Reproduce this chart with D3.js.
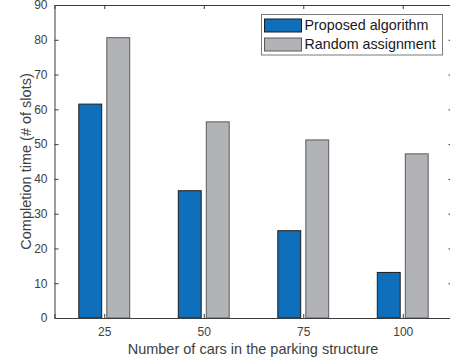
<!DOCTYPE html>
<html>
<head>
<meta charset="utf-8">
<script src="https://cdn.jsdelivr.net/npm/d3@7"></script>
<style>
  html, body { margin: 0; padding: 0; background: #fff; }
  svg { display: block; font-family: "Liberation Sans", Arial, sans-serif; }
</style>
</head>
<body>
<svg id="chart" width="450" height="364"></svg>
<script>
// Completion time for each fleet size, per assignment strategy
const carCounts = ["25", "50", "75", "100"];
const proposed = [61.5, 36.6, 25.1, 13.1];
const randomAssign = [80.6, 56.4, 51.2, 47.2];
const seriesNames = ["Proposed algorithm", "Random assignment"];
const yTicks = [0, 10, 20, 30, 40, 50, 60, 70, 80, 90];

const svg = d3.select("#chart");
const plotL = 54.5, plotR = 452.5, plotT = 5, plotB = 318;

const x = d3.scaleLinear().domain([0.5, carCounts.length + 0.5]).range([plotL, plotR]);
const y = d3.scaleLinear().domain([0, 90]).range([plotB, plotT]);

const axisColor = "#3c3c3c";
const textColor = "#404040";
const colors = ["#0f6fba", "#b2b3b6"];
const edges = ["#1c1c1c", "#5a5a5a"];

// bars: two per group, offset either side of the group tick
const barW = 0.23, offset = 0.1407;
const series = [proposed, randomAssign];
series.forEach((vals, s) => {
  svg.append("g").selectAll("rect")
    .data(vals)
    .join("rect")
    .attr("x", (d, i) => x(i + 1 + (s === 0 ? -offset : offset) - barW / 2))
    .attr("width", x(barW) - x(0))
    .attr("y", d => y(d))
    .attr("height", d => y(0) - y(d))
    .attr("fill", colors[s])
    .attr("stroke", edges[s])
    .attr("stroke-width", 1);
});

// axes with inward ticks on all four sides
const tickIdx = carCounts.map((_, i) => i + 1);
const xb = svg.append("g").attr("transform", `translate(0,${plotB})`)
  .call(d3.axisBottom(x).tickValues(tickIdx).tickFormat((d) => carCounts[d - 1]).tickSize(-4).tickPadding(9));
const xt = svg.append("g").attr("transform", `translate(0,${plotT})`)
  .call(d3.axisTop(x).tickValues(tickIdx).tickFormat("").tickSize(-4));
const yl = svg.append("g").attr("transform", `translate(${plotL},0)`)
  .call(d3.axisLeft(y).tickValues(yTicks).tickSize(-4).tickPadding(7));
const yr = svg.append("g").attr("transform", `translate(${plotR},0)`)
  .call(d3.axisRight(y).tickValues(yTicks).tickFormat("").tickSize(-4));

[xb, xt, yl, yr].forEach(g => {
  g.selectAll(".domain").attr("stroke", axisColor).attr("stroke-width", 1);
  g.selectAll(".tick line").attr("stroke", axisColor);
  g.selectAll("text").attr("fill", textColor).attr("font-size", 12)
    .attr("font-family", "Liberation Sans, Arial, sans-serif");
});

// axis titles
svg.append("text")
  .attr("x", (plotL + plotR) / 2 - 0.5).attr("y", 353.5)
  .attr("text-anchor", "middle").attr("font-size", 14.5).attr("fill", textColor)
  .text("Number of cars in the parking structure");
svg.append("text")
  .attr("transform", `translate(30.5,${(plotT + plotB) / 2}) rotate(-90)`)
  .attr("text-anchor", "middle").attr("font-size", 14.5).attr("fill", textColor)
  .text("Completion time (# of slots)");

// legend
const lg = svg.append("g");
lg.append("rect").attr("x", 261.5).attr("y", 14.5).attr("width", 181).attr("height", 40.5)
  .attr("fill", "#fff").attr("stroke", "#7a7a7a").attr("stroke-width", 1);
seriesNames.forEach((name, i) => {
  const yy = 19 + i * 19;
  lg.append("rect").attr("x", 264.5).attr("y", yy).attr("width", 37).attr("height", 13)
    .attr("fill", colors[i]).attr("stroke", edges[i]);
  lg.append("text").attr("x", 304.5).attr("y", yy + 11.2).attr("font-size", 14.3)
    .attr("fill", "#1a1a1a").text(name);
});
</script>
</body>
</html>
